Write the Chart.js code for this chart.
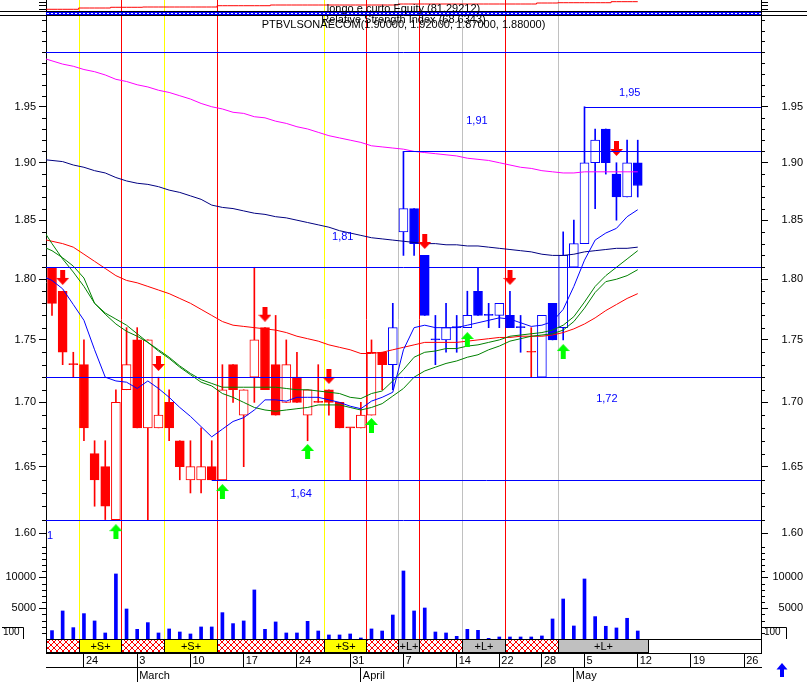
<!DOCTYPE html>
<html>
<head>
<meta charset="utf-8">
<title>PTBVLSONAECOM</title>
<script src="https://cdn.jsdelivr.net/npm/chart.js@4.4.1/dist/chart.umd.min.js"></script>
<style>
  html, body { margin: 0; padding: 0; background: #fff; }
  canvas { display: block; }
</style>
</head>
<body>
<canvas id="grafico" width="807" height="682"></canvas>
<script>
// Sessões de 19/02 a 12/05 (índice 0 = 19 Fev)
const openP  = [1.81,1.79,1.73,1.73,1.66,1.65,1.61,1.71,1.75,1.68, 1.68,1.70,1.67,1.64,1.64,1.65,1.64,1.73,1.69,1.72,
                1.76,1.73,1.70,1.72,1.69,1.70,1.71,1.70,1.68,1.68, 1.69,1.74,1.73,1.84,1.86,1.82,1.75,1.75,1.76,1.76,
                1.79,1.77,1.77,1.77,1.76,1.74,1.72,1.78,1.76,1.81, 1.83,1.90,1.93,1.89,1.87,1.90];
const highP  = [1.81,1.79,1.74,1.75,1.67,1.67,1.71,1.76,1.76,1.75, 1.72,1.71,1.67,1.67,1.68,1.67,1.73,1.73,1.71,1.81,
                1.76,1.77,1.75,1.74,1.71,1.73,1.71,1.70,1.68,1.70, 1.75,1.74,1.78,1.91,1.86,1.82,1.77,1.78,1.77,1.79,
                1.81,1.78,1.78,1.79,1.77,1.76,1.77,1.78,1.84,1.85, 1.95,1.93,1.93,1.90,1.92,1.92];
const lowP   = [1.77,1.73,1.72,1.67,1.62,1.61,1.61,1.71,1.68,1.61, 1.68,1.67,1.64,1.63,1.63,1.64,1.64,1.70,1.65,1.70,
                1.71,1.69,1.70,1.70,1.67,1.70,1.69,1.68,1.64,1.68, 1.69,1.71,1.71,1.82,1.82,1.77,1.73,1.74,1.74,1.76,
                1.77,1.76,1.76,1.76,1.74,1.72,1.72,1.75,1.75,1.81, 1.83,1.86,1.89,1.85,1.87,1.87];
const closeP = [1.78,1.74,1.73,1.68,1.64,1.62,1.70,1.73,1.68,1.75, 1.69,1.68,1.65,1.65,1.65,1.64,1.71,1.71,1.71,1.75,
                1.71,1.69,1.73,1.70,1.71,1.70,1.70,1.68,1.68,1.69, 1.74,1.73,1.76,1.86,1.83,1.77,1.75,1.76,1.76,1.77,
                1.77,1.77,1.78,1.76,1.76,1.74,1.77,1.75,1.82,1.83, 1.90,1.92,1.90,1.87,1.90,1.88];
// cor de cada vela: r = vermelho, b = azul
const candleTint = 'rrrrrrrrrrrrrrrrrrrrrrrrrrrrrrrrbbbbbbbbbbbbbrbbbbbbbbbb'.split('');
const volume = [1400,4570,1880,4140,2960,1020,10540,4890,1610,2690, 1020,1670,1180,860,1990,1990,4300,2530,2960,7960,
                1610,2800,1020,1020,2900,1340,700,700,860,215, 1670,1340,3920,11020,4570,5050,1180,1020,480,1610,
                1450,160,375,375,375,375,540,3280,6500,2150, 9730,3660,2100,1830,3390,1340];

// médias móveis (primeiro valor = 18 Fev)
const maBlue = [1.803,1.799,1.792,1.779,1.766,1.742,1.720,1.717,1.716,1.711,1.717,1.711,1.704,1.696,1.689,1.681,1.673,1.679,1.685,1.688,
                1.694,1.702,1.702,1.701,1.704,1.704,1.704,1.702,1.700,1.697,1.695,1.701,1.704,1.708,1.742,1.760,1.762,1.760,1.760,1.760,
                1.762,1.764,1.766,1.768,1.767,1.764,1.761,1.762,1.765,1.775,1.794,1.816,1.833,1.839,1.843,1.853,1.859];
const maGreenA = [1.844,1.830,1.817,1.806,1.794,1.780,1.772,1.767,1.762,1.755,1.748,1.742,1.736,1.729,1.723,1.718,1.715,1.712,1.712,1.712,
                  1.712,1.712,1.712,1.711,1.710,1.710,1.709,1.708,1.707,1.704,1.703,1.707,1.709,1.717,1.726,1.736,1.740,1.741,1.743,1.743,
                  1.745,1.746,1.748,1.750,1.753,1.754,1.755,1.756,1.758,1.762,1.769,1.781,1.794,1.803,1.810,1.817,1.824];
const maGreenB = [1.828,1.824,1.818,1.811,1.801,1.780,1.771,1.763,1.757,1.753,1.748,1.741,1.735,1.728,1.722,1.716,1.713,1.707,1.704,1.700,
                  1.696,1.694,1.693,1.694,1.695,1.696,1.698,1.698,1.698,1.696,1.694,1.696,1.699,1.705,1.711,1.720,1.725,1.728,1.731,1.733,
                  1.736,1.738,1.742,1.745,1.749,1.751,1.753,1.754,1.755,1.758,1.765,1.776,1.789,1.798,1.800,1.803,1.808];
const maRed = [1.834,1.832,1.830,1.827,1.821,1.815,1.809,1.803,1.799,1.797,1.794,1.791,1.788,1.784,1.780,1.775,1.770,1.765,1.762,1.761,
               1.760,1.759,1.758,1.756,1.753,1.751,1.749,1.746,1.744,1.742,1.739,1.739,1.740,1.742,1.744,1.746,1.748,1.748,1.748,1.748,
               1.749,1.750,1.751,1.752,1.752,1.753,1.753,1.753,1.754,1.756,1.759,1.763,1.768,1.774,1.779,1.784,1.788];
const maNavy = [1.903,1.902,1.901,1.898,1.896,1.893,1.891,1.887,1.884,1.882,1.881,1.879,1.876,1.874,1.871,1.868,1.863,1.861,1.860,1.858,
                1.856,1.855,1.853,1.852,1.850,1.848,1.846,1.844,1.841,1.839,1.837,1.835,1.834,1.833,1.832,1.831,1.830,1.830,1.829,1.829,
                1.828,1.828,1.827,1.826,1.825,1.824,1.823,1.821,1.820,1.820,1.821,1.823,1.824,1.825,1.826,1.826,1.827];
const maMagenta = [1.995,1.992,1.989,1.987,1.984,1.982,1.979,1.975,1.973,1.970,1.968,1.965,1.963,1.960,1.957,1.953,1.950,1.948,1.945,1.944,
                   1.941,1.940,1.937,1.935,1.932,1.930,1.927,1.924,1.922,1.920,1.918,1.915,1.914,1.913,1.912,1.910,1.909,1.908,1.907,1.906,
                   1.904,1.903,1.902,1.900,1.898,1.896,1.895,1.893,1.892,1.891,1.891,1.892,1.892,1.892,1.892,1.892,1.892];
// curva de equity "longo e curto" (primeiro valor = 18 Fev)
const equity = [60,60,60,60,63.6,63.6,63.6,65.6,65.6,65.6,66.4,66.4,66.4,66.4,66.4,66.4,66.4,70,70,70,
                70,70,72,72,72,72,72,72,72,72,72,72,72,72,74.8,74.8,74.8,74.8,74.8,74.8,
                74.8,74.8,74.8,74.8,74.8,74.8,74.8,77.6,77.6,78.4,78.4,78.4,78.4,78.4,81.29,81.29,81.29];

// sinais de compra / venda
const sellIdx = [1, 10, 20, 26, 35, 43, 53];
const sellAt  = [1.8015, 1.731, 1.771, 1.7206, 1.8318, 1.8015, 1.9126];
const buyIdx  = [6, 16, 24, 30, 39, 48];
const buyAt   = [1.601, 1.6311, 1.6617, 1.6819, 1.7503, 1.7406];

// suportes e resistências
const levels    = [2.00, 1.91, 1.81, 1.72, 1.64, 1.61, 1.95];
const levelFrom = [null, 33, null, null, 15, null, 50];
const levelText    = ['1,81', '1,91', '1,95', '1,72', '1,64'];
const levelTextIdx = [27.3, 39.9, 54.25, 52.1, 23.4];
const levelTextAt  = [1.836, 1.937, 1.9623, 1.7023, 1.6294];

// linhas verticais e faixa de posições
const signalPos  = [2.5, 6.5, 10.5, 15.5, 25.5, 29.5, 32.5, 34.5, 38.5, 42.5, 47.5];
const signalKind = ['y', 'r', 'y', 'r', 'y', 'r', 'g', 'r', 'g', 'r', 'g'];
const stripEdges = [-1, 2.5, 6.5, 10.5, 15.5, 25.5, 29.5, 32.5, 34.5, 38.5, 42.5, 47.5, 56];
const stripKind  = ['x', 'S', 'x', 'S', 'x', 'S', 'x', 'L', 'x', 'L', 'x', 'L'];

// eixos
const weekTicks   = [3, 8, 13, 18, 23, 28, 33, 38, 42, 46, 50, 55, 60, 65];
const weekLabels  = ['24', '3', '10', '17', '24', '31', '7', '14', '22', '28', '5', '12', '19', '26'];
const monthTicks  = [8, 29, 49];
const monthLabels = ['March', 'April', 'May'];
const priceTicks  = [1.60, 1.65, 1.70, 1.75, 1.80, 1.85, 1.90, 1.95];
const priceLabels = ['1.60', '1.65', '1.70', '1.75', '1.80', '1.85', '1.90', '1.95'];
const volumeTicks  = [5000, 10000];
const volumeLabels = ['5000', '10000'];

const FONT = '"Liberation Sans", Arial, Helvetica, sans-serif';
const RED = '#ff0000', BLUE = '#0000ff';
const SIGNAL_COLOR = { y: '#ffff00', r: '#ff0000', g: '#c0c0c0' };
const X_MIN = -0.563, X_MAX = 66.573;

const tint = i => candleTint[i] === 'r' ? RED : BLUE;
const bodyFill = i => closeP[i] > openP[i] ? '#ffffff' : tint(i);
const idx = openP.map((_, i) => i);

// Seta usada como pointStyle
const arrow = (color, up) => {
    const c = document.createElement('canvas');
    c.width = 13; c.height = 15;
    const g = c.getContext('2d');
    g.fillStyle = color;
    g.beginPath();
    if (up) {
        g.moveTo(6.5, 0); g.lineTo(13, 7); g.lineTo(0, 7);
        g.closePath(); g.fill();
        g.fillRect(4, 7, 5, 8);
    } else {
        g.fillRect(4, 0, 5, 8);
        g.moveTo(0, 8); g.lineTo(13, 8); g.lineTo(6.5, 15);
        g.closePath(); g.fill();
    }
    return c;
};

// Tile do tracejado vermelho da faixa
const hatchTile = (() => {
    const c = document.createElement('canvas');
    c.width = 6; c.height = 6;
    const g = c.getContext('2d');
    g.fillStyle = '#fff'; g.fillRect(0, 0, 6, 6);
    g.strokeStyle = RED; g.lineWidth = 1;
    g.beginPath();
    g.moveTo(0, 0); g.lineTo(6, 6);
    g.moveTo(6, 0); g.lineTo(0, 6);
    g.stroke();
    return c;
})();

const ma = (arr, color) => ({
    type: 'line',
    data: arr.map((v, k) => ({ x: k - 1, y: v })),
    borderColor: color, borderWidth: 1, pointRadius: 0, tension: 0, fill: false,
    xAxisID: 'x', yAxisID: 'y', order: 1
});

const fixW = w => s => { s.width = w; s.paddingTop = 0; s.paddingBottom = 0; };
const fixH = h => s => { s.height = h; s.paddingLeft = 0; s.paddingRight = 0; };

const yAxis = (pos, stackWeight, weight, extra) => Object.assign({
    position: pos,
    stack: pos === 'left' ? 'esq' : 'dir',
    stackWeight: stackWeight,
    weight: weight,
    bounds: 'data',
    grid: { drawOnChartArea: false, drawTicks: true, tickLength: 7, color: '#000', tickColor: '#000' },
    border: { display: true, color: '#000', width: 1 },
    afterFit: fixW(pos === 'left' ? 46 : 42)
}, extra);

const tickFont = { family: FONT, size: 11 };
const leftTicks = (labels) => ({ autoSkip: false, color: '#000', font: tickFont, padding: 3, callback: (v, i) => labels[i] });
const rightTicks = (labels) => ({ autoSkip: false, color: '#000', font: tickFont, padding: 3, crossAlign: 'far', callback: (v, i) => labels[i] });
const noTicks = { autoSkip: false, display: true, font: tickFont, callback: () => '' };

// Marcas pequenas, linhas, faixa e textos
const decor = {
    id: 'decor',
    beforeDatasetsDraw(chart) {
        const { ctx, chartArea: a, scales } = chart;
        const sx = scales.x, sv = scales.yv;
        const base = Math.round(sv.getPixelForValue(0));
        ctx.save();
        ctx.lineWidth = 1;
        signalPos.forEach((p, k) => {
            const px = Math.round(sx.getPixelForValue(p)) + 0.5;
            ctx.strokeStyle = SIGNAL_COLOR[signalKind[k]];
            ctx.beginPath(); ctx.moveTo(px, a.top); ctx.lineTo(px, base); ctx.stroke();
        });
        ctx.restore();
    },
    afterDatasetsDraw(chart) {
        const { ctx, chartArea: a, scales } = chart;
        const sx = scales.x, sy = scales.y, sv = scales.yv, sr = scales.yr;
        ctx.save();
        ctx.lineWidth = 1;

        // suportes / resistências
        ctx.strokeStyle = BLUE;
        levels.forEach((lv, k) => {
            const py = Math.round(sy.getPixelForValue(lv)) + 0.5;
            const x0 = levelFrom[k] === null ? a.left : sx.getPixelForValue(levelFrom[k]);
            ctx.beginPath(); ctx.moveTo(x0, py); ctx.lineTo(a.right, py); ctx.stroke();
        });
        ctx.font = '11px ' + FONT;
        ctx.fillStyle = BLUE;
        ctx.textAlign = 'center';
        ctx.textBaseline = 'middle';
        levelText.forEach((t, k) => {
            ctx.fillText(t, sx.getPixelForValue(levelTextIdx[k]), sy.getPixelForValue(levelTextAt[k]));
        });
        ctx.textAlign = 'left';
        ctx.fillText('1', a.left + 1, sy.bottom - 12);

        // marcas menores do eixo de preço
        ctx.strokeStyle = '#000';
        for (let c = 159; c <= 203; c++) {
            if (c % 5 === 0 && c >= 160 && c <= 195) continue;
            const py = Math.round(sy.getPixelForValue(c / 100)) + 0.5;
            if (py < sy.top || py > sy.bottom) continue;
            ctx.beginPath();
            ctx.moveTo(a.left - 4, py); ctx.lineTo(a.left, py);
            ctx.moveTo(a.right, py); ctx.lineTo(a.right + 4, py);
            ctx.stroke();
        }
        for (let v = 1000; v <= 14000; v += 1000) {
            if (v === 5000 || v === 10000) continue;
            const py = Math.round(sv.getPixelForValue(v)) + 0.5;
            ctx.beginPath();
            ctx.moveTo(a.left - 4, py); ctx.lineTo(a.left, py);
            ctx.moveTo(a.right, py); ctx.lineTo(a.right + 4, py);
            ctx.stroke();
        }

        // faixa +S+ / +L+
        const top = Math.round(sv.getPixelForValue(0)) + 0.5;
        const bot = Math.round(a.bottom) - 0.5;
        const pat = ctx.createPattern(hatchTile, 'repeat');
        ctx.textAlign = 'center';
        stripKind.forEach((k, j) => {
            const l = Math.round(Math.max(a.left, sx.getPixelForValue(stripEdges[j]))) + 0.5;
            const r = Math.round(sx.getPixelForValue(stripEdges[j + 1])) + 0.5;
            ctx.fillStyle = k === 'x' ? pat : (k === 'S' ? '#ffff00' : '#c0c0c0');
            ctx.fillRect(l, top, r - l, bot - top);
            ctx.strokeStyle = '#000';
            ctx.strokeRect(l, top, r - l, bot - top);
            if (k !== 'x') {
                ctx.fillStyle = '#000';
                ctx.fillText(k === 'S' ? '+S+' : '+L+', (l + r) / 2, (top + bot) / 2 + 1);
            }
        });
        ctx.strokeStyle = '#000';
        ctx.beginPath(); ctx.moveTo(a.left, top); ctx.lineTo(a.right, top); ctx.stroke();

        // faixa do RSI
        const bt = Math.round(sr.top) + 0.5, bb = Math.round(sr.bottom) - 0.5;
        ctx.fillStyle = BLUE;
        ctx.fillRect(a.left, bt, a.right - a.left, bb - bt);
        ctx.strokeStyle = '#fff';
        ctx.setLineDash([2, 2]);
        ctx.beginPath(); ctx.moveTo(a.left + 1, bt + 2); ctx.lineTo(a.right, bt + 2); ctx.stroke();
        ctx.setLineDash([]);
        ctx.strokeStyle = '#000';
        ctx.beginPath();
        ctx.moveTo(0, bt); ctx.lineTo(chart.width, bt);
        ctx.moveTo(0, bb); ctx.lineTo(chart.width, bb);
        ctx.stroke();

        // títulos
        const cx = (a.left + a.right) / 2;
        ctx.fillStyle = '#000';
        ctx.fillText('longo e curto Equity (81.29212)', cx, 9);
        ctx.fillText('Relative Strength Index (68.6343)', cx, 19.5);
        ctx.fillText('PTBVLSONAECOM(1.90000, 1.92000, 1.87000, 1.88000)', cx, 24.5);

        // caixas "100" do volume
        ctx.textAlign = 'left';
        ctx.font = '10px ' + FONT;
        ctx.fillText('100', 3, 632);
        ctx.fillText('100', a.right + 3, 632);
        ctx.beginPath();
        ctx.moveTo(2, 627.5); ctx.lineTo(23.5, 627.5); ctx.lineTo(23.5, 639);
        ctx.moveTo(a.right, 627.5); ctx.lineTo(786.5, 627.5); ctx.lineTo(786.5, 639);
        ctx.stroke();

        // seta azul no canto
        ctx.fillStyle = BLUE;
        ctx.beginPath();
        ctx.moveTo(782, 663); ctx.lineTo(787.5, 669.5); ctx.lineTo(776.5, 669.5);
        ctx.closePath(); ctx.fill();
        ctx.fillRect(780, 669, 4, 8);
        ctx.restore();
    }
};

new Chart(document.getElementById('grafico'), {
    type: 'line',
    data: {
        datasets: [
            { type: 'line', data: sellIdx.map((x, k) => ({ x: x, y: sellAt[k] })), showLine: false,
              pointStyle: arrow(RED, false), pointRadius: 7, xAxisID: 'x', yAxisID: 'y', order: 0 },
            { type: 'line', data: buyIdx.map((x, k) => ({ x: x, y: buyAt[k] })), showLine: false,
              pointStyle: arrow('#00ff00', true), pointRadius: 7, xAxisID: 'x', yAxisID: 'y', order: 0 },
            ma(maBlue, BLUE),
            ma(maGreenA, '#008000'),
            ma(maGreenB, '#008000'),
            ma(maRed, RED),
            ma(maNavy, '#000080'),
            ma(maMagenta, '#ff00ff'),
            { type: 'line', data: equity.map((v, k) => ({ x: k - 1, y: v })), stepped: 'middle',
              borderColor: RED, borderWidth: 1, pointRadius: 0, xAxisID: 'x', yAxisID: 'ye', order: 1 },
            { type: 'bar', data: idx.map(i => ({ x: i, y: [openP[i], closeP[i]] })),
              backgroundColor: idx.map(bodyFill), borderColor: idx.map(tint), borderWidth: 1,
              borderSkipped: false, barThickness: 9, minBarLength: 1, grouped: false,
              xAxisID: 'x', yAxisID: 'y', order: 2 },
            { type: 'bar', data: idx.map(i => ({ x: i, y: [lowP[i], highP[i]] })),
              backgroundColor: idx.map(tint), borderWidth: 0, barThickness: 1, grouped: false,
              xAxisID: 'x', yAxisID: 'y', order: 3 },
            { type: 'bar', data: idx.map(i => ({ x: i, y: volume[i] })),
              backgroundColor: BLUE, borderWidth: 0, barThickness: 3, grouped: false,
              xAxisID: 'x', yAxisID: 'yv', order: 3 }
        ]
    },
    options: {
        responsive: false,
        animation: false,
        devicePixelRatio: 1,
        events: [],
        layout: { autoPadding: false, padding: { left: 0, right: 4, top: 0, bottom: 0 } },
        plugins: { legend: { display: false }, tooltip: { enabled: false } },
        scales: {
            x: {
                type: 'linear', position: 'bottom', weight: 0, min: X_MIN, max: X_MAX, offset: false,
                afterBuildTicks: s => { s.ticks = weekTicks.map(v => ({ value: v })); },
                afterFit: fixH(14),
                grid: { drawOnChartArea: false, drawTicks: true, tickLength: 14, color: '#000', offset: false },
                border: { color: '#000' },
                ticks: { autoSkip: false, maxRotation: 0, align: 'start', labelOffset: 2, padding: -13,
                         color: '#000', font: tickFont, callback: (v, i) => weekLabels[i] }
            },
            xm: {
                type: 'linear', position: 'bottom', weight: 1, min: X_MIN, max: X_MAX, offset: false,
                afterBuildTicks: s => { s.ticks = monthTicks.map(v => ({ value: v })); },
                afterFit: fixH(15),
                grid: { drawOnChartArea: false, drawTicks: true, tickLength: 15, color: '#000', offset: false },
                border: { color: '#000' },
                ticks: { autoSkip: false, maxRotation: 0, align: 'start', labelOffset: 2, padding: -13,
                         color: '#000', font: tickFont, callback: (v, i) => monthLabels[i] }
            },
            ye: yAxis('left', 11, 4, { type: 'linear', min: 55.2, max: 86,
                afterBuildTicks: s => { s.ticks = [{ value: 60 }, { value: 70 }, { value: 80 }]; }, ticks: noTicks }),
            yr: yAxis('left', 5, 3, { type: 'linear', min: 0, max: 100,
                afterBuildTicks: s => { s.ticks = []; }, ticks: noTicks }),
            y: yAxis('left', 532, 2, { type: 'logarithmic', min: 1.5889, max: 2.0339,
                afterBuildTicks: s => { s.ticks = priceTicks.map(v => ({ value: v })); }, ticks: leftTicks(priceLabels) }),
            yv: yAxis('left', 105, 1, { type: 'linear', min: -2210, max: 14726,
                afterBuildTicks: s => { s.ticks = volumeTicks.map(v => ({ value: v })); }, ticks: leftTicks(volumeLabels) }),
            ye2: yAxis('right', 11, 1, { type: 'linear', min: 55.2, max: 86,
                afterBuildTicks: s => { s.ticks = [{ value: 60 }, { value: 70 }, { value: 80 }]; }, ticks: noTicks }),
            yr2: yAxis('right', 5, 2, { type: 'linear', min: 0, max: 100,
                afterBuildTicks: s => { s.ticks = []; }, ticks: noTicks }),
            y2: yAxis('right', 532, 3, { type: 'logarithmic', min: 1.5889, max: 2.0339,
                afterBuildTicks: s => { s.ticks = priceTicks.map(v => ({ value: v })); }, ticks: rightTicks(priceLabels) }),
            yv2: yAxis('right', 105, 4, { type: 'linear', min: -2210, max: 14726,
                afterBuildTicks: s => { s.ticks = volumeTicks.map(v => ({ value: v })); }, ticks: rightTicks(volumeLabels) })
        }
    },
    plugins: [decor]
});
</script>
</body>
</html>
